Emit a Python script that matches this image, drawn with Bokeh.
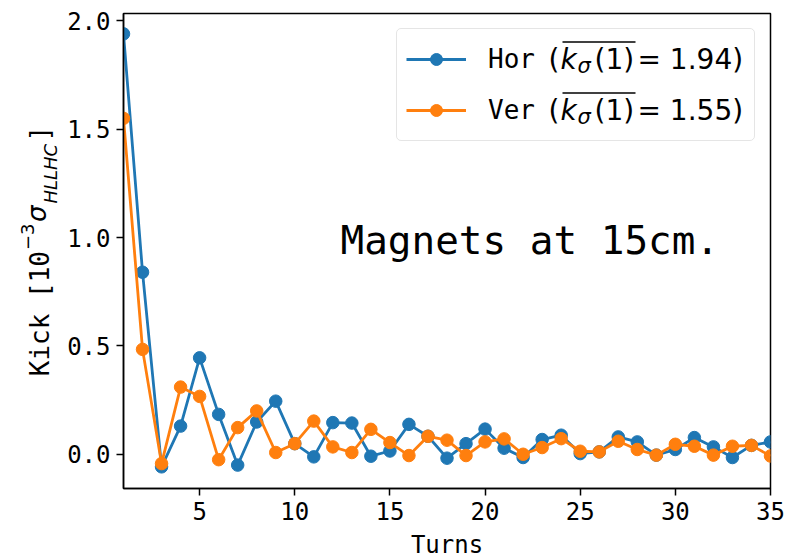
import math
from bokeh.plotting import figure
from bokeh.models import (Range1d, FixedTicker, NumeralTickFormatter, Label,
                          Legend, LegendItem, Arrow, LinearAxis)
from bokeh.embed import file_html
from bokeh.resources import INLINE

# ---------------- data ----------------
turns = list(range(1, 36))
hor = [1.94, 0.84, -0.058, 0.13, 0.445, 0.184, -0.05, 0.149, 0.245, 0.049,
       -0.012, 0.146, 0.144, -0.009, 0.015, 0.138, 0.083, -0.018, 0.049, 0.116,
       0.028, -0.015, 0.068, 0.088, 0.003, 0.011, 0.08, 0.057, -0.004, 0.022,
       0.077, 0.034, -0.015, 0.041, 0.057]
ver = [1.55, 0.484, -0.043, 0.31, 0.267, -0.025, 0.123, 0.2, 0.008, 0.049,
       0.153, 0.034, 0.008, 0.115, 0.054, -0.006, 0.083, 0.065, -0.006, 0.057,
       0.071, 0.0, 0.031, 0.072, 0.014, 0.011, 0.06, 0.022, -0.004, 0.046,
       0.037, -0.004, 0.037, 0.041, -0.008]
series_names = ["Hor", "Ver"]
series_values = [hor, ver]
colors = ["#1f77b4", "#ff7f0e"]
x_ticks = [5, 10, 15, 20, 25, 30, 35]
y_ticks = [0.0, 0.5, 1.0, 1.5, 2.0]
annotation_text = "Magnets at 15cm."
x_label = "Turns"
# y label "Kick [10^-3 sigma_HLLHC]" in pieces
y_label_head, y_label_tail = "Kick [10", "]"
y_label_math = [("−3", "normal", 18), ("σ", "italic", 26),
                ("HLLHC", "italic", 18)]

# ---------------- geometry ----------------
X0, X1 = 1, 35
Y0, Y1 = -0.158, 2.034
FL, FT, FW, FH = 123, 13, 647, 475   # frame in picture pixels
W, H = 786, 558
MID = 0.346   # baseline offset (em) of a 'middle' anchored text

def X(px):
    return X0 + (px - FL) * (X1 - X0) / FW

def Y(py):
    return Y1 - (py - FT) * (Y1 - Y0) / FH

MONO = "DejaVu Sans Mono"
SANS = "DejaVu Sans"
SANS_ADV = {"−": 0.838, "3": 0.636, "σ": 0.634, "H": 0.752, "L": 0.557,
            "C": 0.698}

def sans_advance(txt, size):
    return sum(SANS_ADV.get(c, 0.6) for c in txt) * size

p = figure(frame_width=FW, frame_height=FH,
           min_border_left=FL, min_border_top=FT,
           min_border_right=W - FL - FW, min_border_bottom=H - FT - FH,
           x_range=Range1d(X0, X1), y_range=Range1d(Y0, Y1),
           output_backend="svg", toolbar_location=None)
p.background_fill_color = "white"
p.border_fill_color = "white"
p.xgrid.visible = False
p.ygrid.visible = False
p.outline_line_color = "black"
p.outline_line_width = 1.5
p.outline_line_alpha = 1.0

p.xaxis.ticker = FixedTicker(ticks=x_ticks)
p.yaxis.ticker = FixedTicker(ticks=y_ticks)
p.yaxis.formatter = NumeralTickFormatter(format="0.0")
for ax in (p.xaxis, p.yaxis):
    ax.axis_line_width = 1.5
    ax.axis_line_color = "black"
    ax.major_tick_out = 7
    ax.major_tick_in = 0
    ax.major_tick_line_width = 1.5
    ax.major_tick_line_color = "black"
    ax.minor_tick_line_color = None
    ax.major_label_text_font = MONO
    ax.major_label_text_font_size = "24px"
    ax.major_label_text_color = "black"
p.xaxis.major_label_standoff = 6
p.yaxis.major_label_standoff = 6
p.xaxis.axis_label = x_label
p.xaxis.axis_label_text_font = MONO
p.xaxis.axis_label_text_font_size = "24px"
p.xaxis.axis_label_text_font_style = "normal"
p.xaxis.axis_label_text_color = "black"
p.xaxis.axis_label_standoff = 8

# ---------------- series ----------------
items = []
for name, vals, col in zip(series_names, series_values, colors):
    lr = p.line(turns, vals, line_color=col, line_width=2.8)
    sr = p.scatter(turns, vals, marker="circle", size=12.5,
                   fill_color=col, line_color=col)
    items.append(LegendItem(label=name, renderers=[lr, sr]))

legend = Legend(items=items, location="top_right", margin=15, padding=9,
                spacing=9, glyph_width=60, glyph_height=30,
                label_standoff=22, label_width=257, label_height=42,
                label_text_font=MONO, label_text_font_size="26px",
                label_text_color="black",
                border_line_color="#cccccc", border_line_width=1.2,
                background_fill_color="white", background_fill_alpha=0.0)
if "border_radius" in Legend.properties():
    legend.border_radius = 5
p.add_layout(legend)

def label_at(txt, px, base_py, size, font, style="normal"):
    return Label(x=X(px), y=Y(base_py - MID * size), text=txt,
                 level="overlay", text_font=font, text_font_style=style,
                 text_font_size="%gpx" % size, text_color="black",
                 text_align="left", text_baseline="middle")

# math part of the legend labels: (k_sigma(1) overlined = value)
for i, vals in enumerate(series_values):
    base = 68.5 + 51 * i
    pieces = [
        ("(", 548, 0, SANS, "normal", 28),
        ("k", 560, 0, SANS, "italic", 28),
        ("σ", 577, 4, SANS, "italic", 21),
        ("(1)", 594, 0, SANS, "normal", 28),
        ("= %.2f)" % vals[0], 637, 0, SANS, "normal", 28),
    ]
    for txt, px, dy, font, style, size in pieces:
        p.add_layout(label_at(txt, px, base + dy, size, font, style))
    p.add_layout(Arrow(x_start=X(562), y_start=Y(base - 27), x_end=X(635),
                       y_end=Y(base - 27), start=None, end=None,
                       line_width=1.4, line_color="black", level="overlay"))

# annotation text
p.add_layout(label_at(annotation_text, 340, 253.3, 39.3, MONO))

# ---------------- y axis label built from label-only axes ----------------
# axis labels are centred on the frame; pieces are shifted with no-break spaces
NB = "\u00a0"
FC = FT + FH / 2.0
MS = 26
mono_sp = 0.602 * MS
math_len = sum(sans_advance(t, s) + 1 for t, st, s in y_label_math) + 2
k = int(round(math_len / mono_sp))
main_text = y_label_head + NB * k + y_label_tail
# (text, font, style, size, baseline x)
pieces_y = [(main_text, MONO, "normal", MS, 53)]
cursor = FC + len(main_text) * mono_sp / 2 - len(y_label_head) * mono_sp - 1
base_xs = [44, 53, 58]
for (txt, style, size), bx in zip(y_label_math, base_xs):
    adv = sans_advance(txt, size)
    center = cursor - adv / 2
    d = FC - center
    n = int(round(abs(2 * d) / (0.318 * size)))
    padded = NB * n + txt if d > 0 else txt + NB * n
    pieces_y.append((padded, SANS, style, size, bx))
    cursor -= adv + 1

ASC, HGT = 0.93, 1.164          # ascent / text box height in em
E0 = 57                          # extent of the tick-label y axis
order = sorted(range(len(pieces_y)),
               key=lambda i: -(pieces_y[i][4] - ASC * pieces_y[i][3]))
L_prev = FL - E0
for i in order:
    txt, font, style, size, bx = pieces_y[i]
    L_i = bx - ASC * size
    extent = max(L_prev - L_i, 0)
    standoff = int(round(extent - HGT * size))
    L_prev = L_prev - extent
    ax = LinearAxis(ticker=FixedTicker(ticks=[]),
                    axis_line_color=None, major_tick_out=0, major_tick_in=0,
                    minor_tick_out=0, minor_tick_in=0, major_label_standoff=0,
                    major_tick_line_color=None, minor_tick_line_color=None,
                    axis_label=txt, axis_label_standoff=standoff,
                    axis_label_text_font=font,
                    axis_label_text_font_style=style,
                    axis_label_text_font_size="%dpx" % size,
                    axis_label_text_color="black")
    p.add_layout(ax, "left")

open("out.html", "w").write(file_html(p, INLINE))
